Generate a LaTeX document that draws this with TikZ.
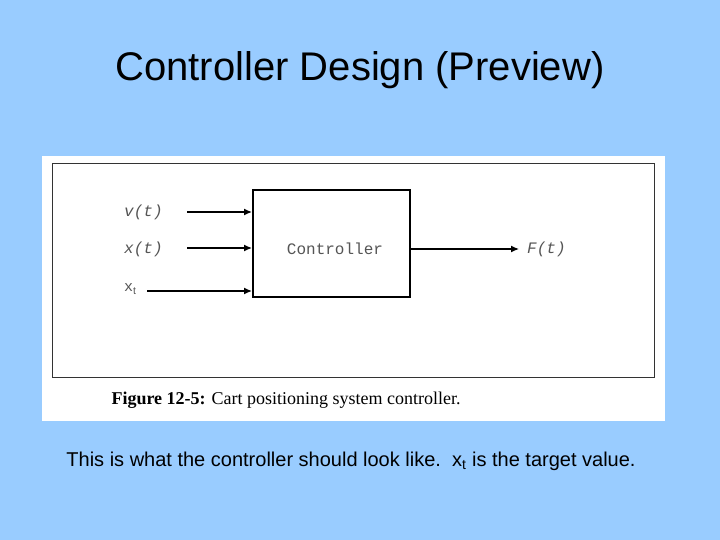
\documentclass[tikz,border=0pt]{standalone}
\usepackage{fontspec}
\setmainfont{Liberation Sans}
\newfontfamily\monof{Liberation Mono}
\newfontfamily\serf{Liberation Serif}
\usetikzlibrary{arrows.meta}
\definecolor{slidebg}{HTML}{99CCFF}
\definecolor{labgray}{HTML}{555555}
\tikzset{
  x=1pt,y=-1pt,
  sig/.style={line width=1.8pt,-{Latex[length=8pt,width=7pt]}},
  lab/.style={font=\monof\fontsize{16}{18}\selectfont\itshape, text=labgray, inner sep=0pt},
}
\begin{document}
\begin{tikzpicture}
\fill[slidebg] (0,0) rectangle (720,540);
\useasboundingbox (0,0) rectangle (720,540);
\node[font=\fontsize{40}{46}\selectfont] (title) at (360,70) {Controller Design (Preview)};
\fill[white] (42,156) rectangle (665,421);
\draw[line width=0.8pt, black!80] (52,163) rectangle (654,377);
\node[draw, line width=1.8pt, minimum width=157pt, minimum height=107pt, inner sep=0pt] (ctrl) at (331.5,243.5) {};
\node[font=\monof\fontsize{16}{18}\selectfont, text=labgray, inner sep=0pt] (ctxt) at (335,249) {Controller};
\node[lab, anchor=west] (v) at (124,212) {v(t)};
\node[lab, anchor=west] (xx) at (124,249) {x(t)};
\node[lab, anchor=west, font=\monof\fontsize{15}{17}\selectfont] (xt) at (124,289) {x$_{\mathrm{t}}$};
\node[lab, anchor=west] (F) at (527,249) {F(t)};
\coordinate (vs) at (187,212);
\coordinate (xs) at (187,248);
\coordinate (ts) at (147,291);
\draw[sig] (vs) -- (vs -| ctrl.west);
\draw[sig] (xs) -- (xs -| ctrl.west);
\draw[sig] (ts) -- (ts -| ctrl.west);
\draw[line width=1.2pt,-{Latex[length=8pt,width=7pt]}] (ctrl.east |- 0,249) -- ([xshift=-8pt]F.west);
\node[font=\serf\fontsize{18}{22}\selectfont, anchor=west] (cap) at (108,400) {\textbf{Figure 12-5:} Cart positioning system controller.};
\node[font=\fontsize{20}{24}\selectfont] (note) at (351,461) {This is what the controller should look like.\ \ x$_{\mathrm{t}}$ is the target value.};
\end{tikzpicture}
\end{document}
